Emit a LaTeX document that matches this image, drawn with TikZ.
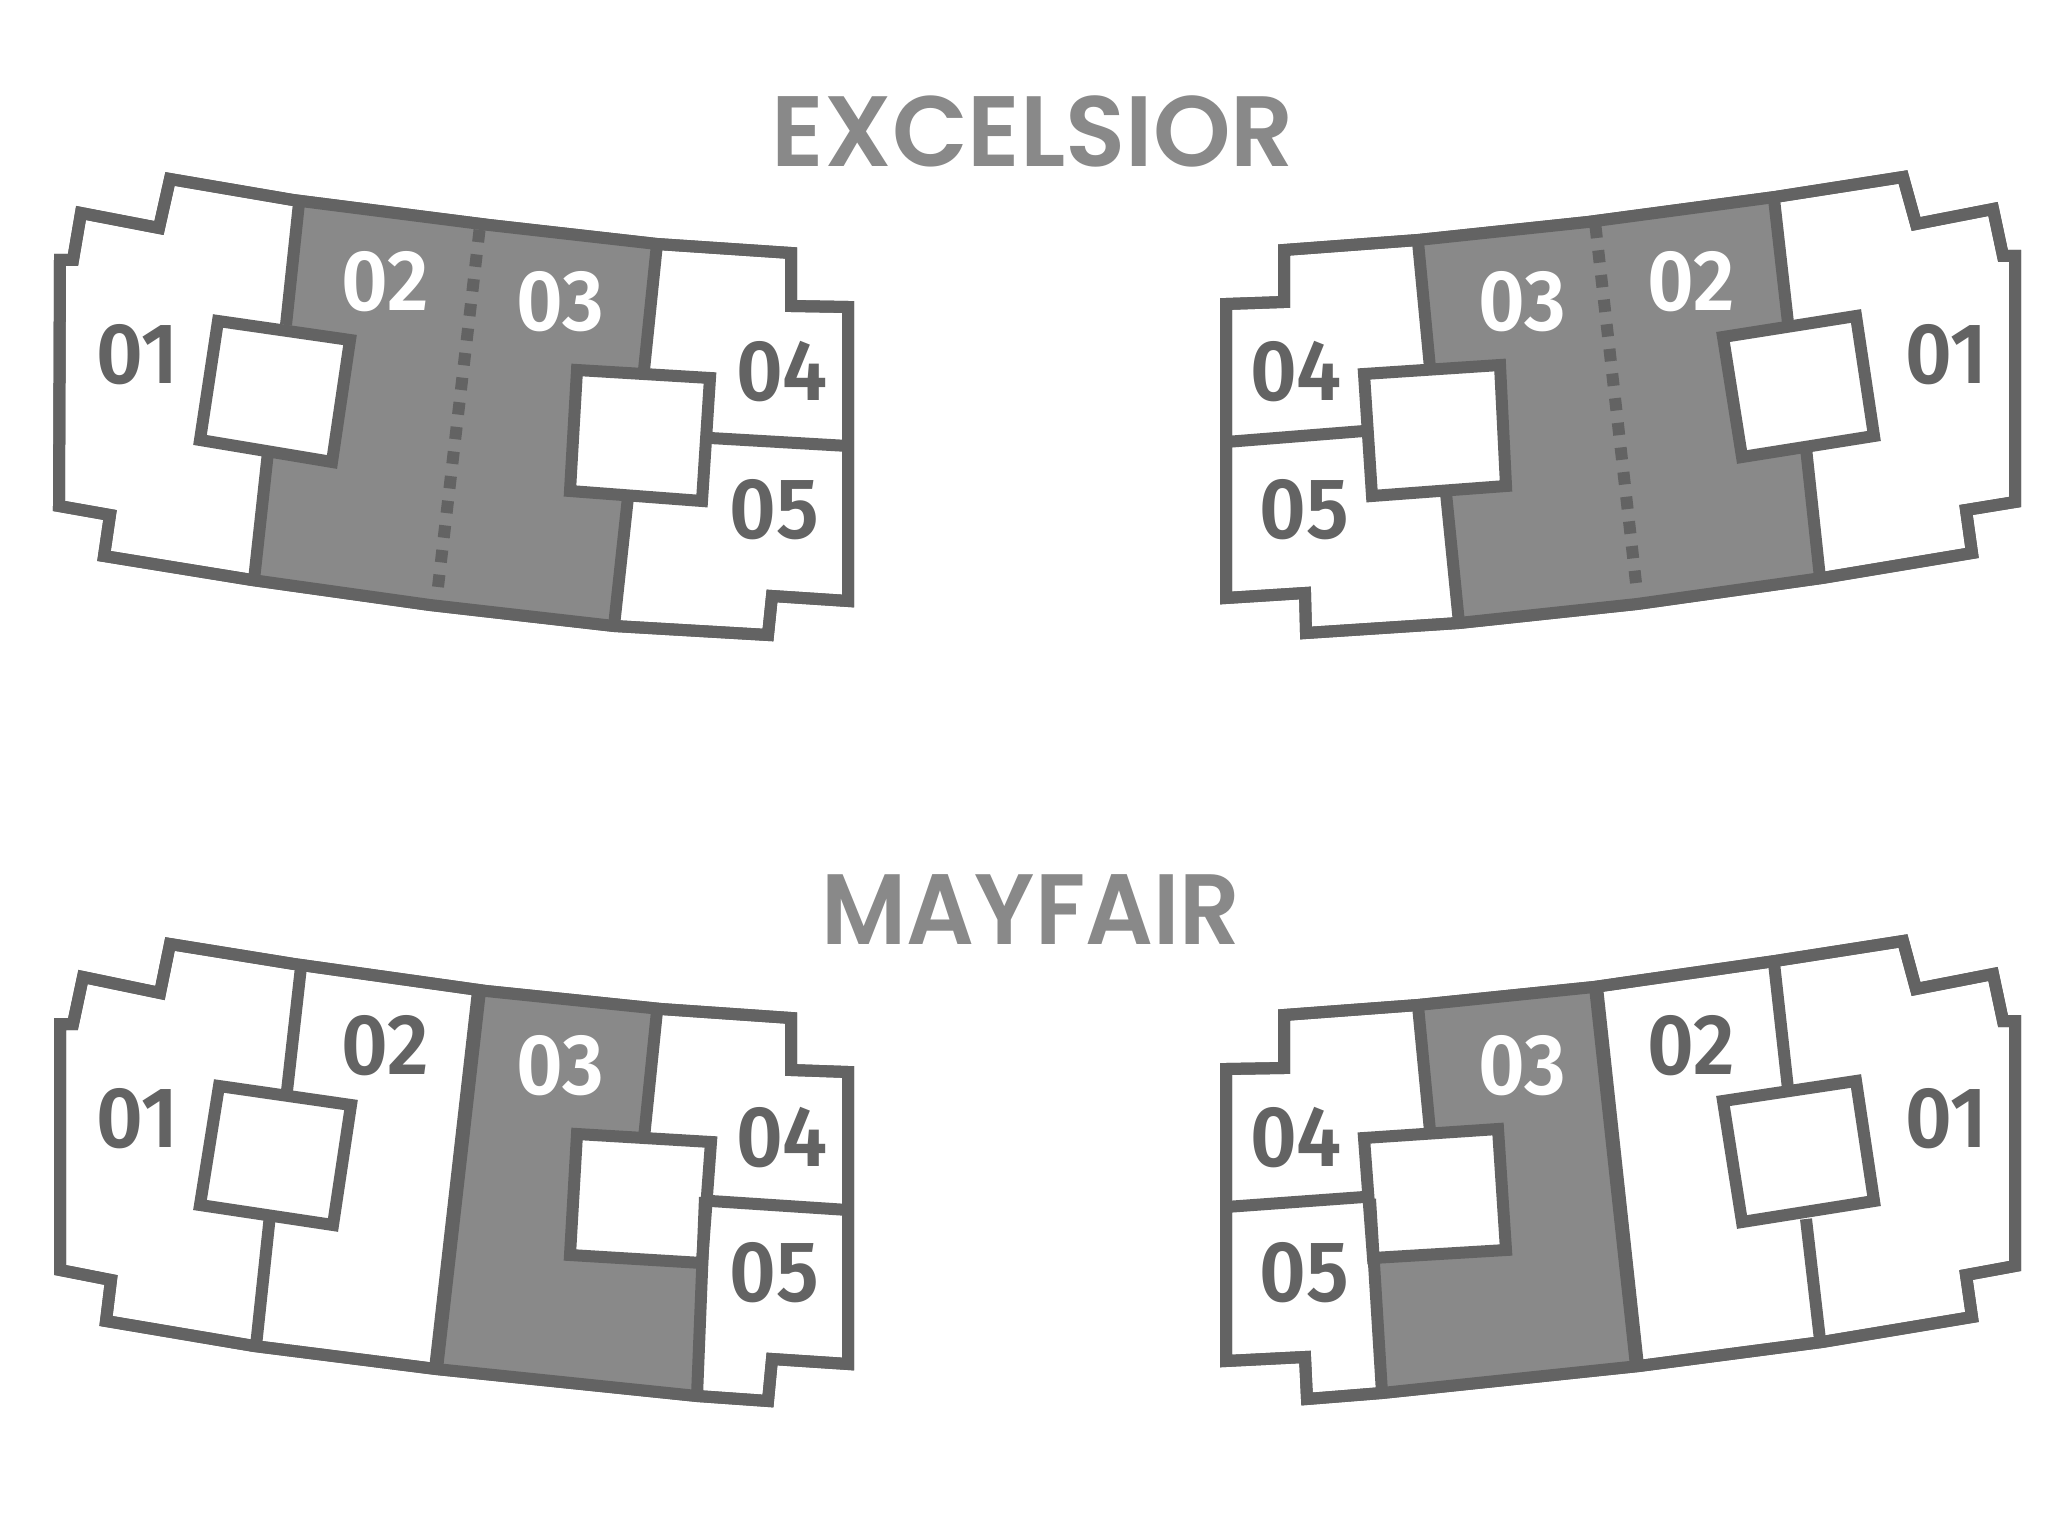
\documentclass[tikz,border=0pt]{standalone}
\usepackage{fontspec}
\usepackage{tikz}
\newfontfamily\titlefont{Poppins SemiBold}
\newfontfamily\unitfont{Fira Sans SemiBold}
\definecolor{mywall}{HTML}{636363}
\definecolor{myshade}{HTML}{898989}
\tikzset{
   myplan/.style={draw=mywall, line width=6pt, fill=white},
   myfill/.style={fill=myshade, draw=none},
   mycore/.style={draw=mywall, line width=6pt, fill=white},
   mywallline/.style={draw=mywall, line width=6pt},
   mythick/.style={draw=mywall, line width=7pt},
   mydots/.style={draw=mywall, line width=6pt, dash pattern=on 6.2pt off 6.2pt},
   mytitle/.style={text=myshade, font=\titlefont\fontsize{50}{50}\selectfont, inner sep=0pt},
   mydark/.style={text=mywall, font=\unitfont\fontsize{43}{43}\selectfont, inner sep=0pt, xscale=.94},
   mylight/.style={mydark, text=white}
}
\begin{document}
\begin{tikzpicture}[x=.5pt,y=-.5pt]
   \useasboundingbox (0,0) rectangle (2072,1513);
   \node[mytitle, xscale=.987] (titleA) at (1033,131) {EXCELSIOR};
   \node[mytitle, xscale=.948] (titleB) at (1031,910) {MAYFAIR};

   \path[myplan] (170,179) -- (293,200) -- (489,225) -- (657,244) -- (791,253) -- (791,306) -- (848,307) -- (848,446) -- (848,601) -- (772,596) -- (768,635) -- (614,626) -- (430,605) -- (252,580) -- (104,556) -- (110,515) -- (59,506) -- (60,260) -- (73,260) -- (81,213) -- (159,228) -- cycle;
   \path[myfill] (299,203) -- (489,225) -- (657,244) -- (614,626) -- (430,605) -- (254,580) -- cycle;
   \path[mywallline] (299,203) -- (286,325);
   \path[mywallline] (268,452) -- (254,580);
   \path[mywallline] (657,244) -- (644,370);
   \path[mywallline] (628,497) -- (614,626);
   \path[mywallline] (710,438) -- (848,446);
   \path[mydots] (438,587) -- (480,226);
   \path[mycore] (218,321) -- (350,340) -- (332,462) -- (200,440) -- cycle;
   \path[mycore] (577,370) -- (710,378) -- (702,501) -- (570,491) -- cycle;
   \path[myplan, fill=none] (170,179) -- (293,200) -- (489,225) -- (657,244) -- (791,253) -- (791,306) -- (848,307) -- (848,446) -- (848,601) -- (772,596) -- (768,635) -- (614,626) -- (430,605) -- (252,580) -- (104,556) -- (110,515) -- (59,506) -- (60,260) -- (73,260) -- (81,213) -- (159,228) -- cycle;
   \node[mydark] (a01) at (137,355) {01};
   \node[mylight] (a02) at (385,282) {02};
   \node[mylight] (a03) at (560,302) {03};
   \node[mydark] (a04) at (782,372) {04};
   \node[mydark] (a05) at (774,510) {05};

   \path[myplan] (1903,177) -- (1775,197) -- (1588,222) -- (1418,240) -- (1284,250) -- (1284,302) -- (1226,304) -- (1226,440) -- (1226,598) -- (1305,593) -- (1306,633) -- (1459,623) -- (1637,604) -- (1822,578) -- (1972,553) -- (1966,510) -- (2015,502) -- (2015,256) -- (2003,256) -- (1993,209) -- (1916,224) -- cycle;
   \path[myfill] (1774,199) -- (1588,222) -- (1418,240) -- (1459,623) -- (1637,604) -- (1822,578) -- cycle;
   \path[mywallline] (1774,199) -- (1788,323);
   \path[mywallline] (1806,448) -- (1820,578);
   \path[mywallline] (1418,242) -- (1430,368);
   \path[mywallline] (1446,493) -- (1459,623);
   \path[mywallline] (1226,442) -- (1364,431);
   \path[mydots] (1636,583) -- (1595,222);
   \path[mycore] (1856,316) -- (1723,337) -- (1742,457) -- (1874,436) -- cycle;
   \path[mycore] (1364,374) -- (1500,365) -- (1506,486) -- (1372,496) -- cycle;
   \path[myplan, fill=none] (1903,177) -- (1775,197) -- (1588,222) -- (1418,240) -- (1284,250) -- (1284,302) -- (1226,304) -- (1226,440) -- (1226,598) -- (1305,593) -- (1306,633) -- (1459,623) -- (1637,604) -- (1822,578) -- (1972,553) -- (1966,510) -- (2015,502) -- (2015,256) -- (2003,256) -- (1993,209) -- (1916,224) -- cycle;
   \node[mydark] (b01) at (1946,355) {01};
   \node[mylight] (b02) at (1691,282) {02};
   \node[mylight] (b03) at (1522,302) {03};
   \node[mydark] (b04) at (1296,372) {04};
   \node[mydark] (b05) at (1304,510) {05};

   \path[myplan] (170,944) -- (294,964) -- (486,991) -- (661,1009) -- (791,1018) -- (791,1070) -- (848,1072) -- (848,1210) -- (848,1364) -- (772,1359) -- (768,1401) -- (697,1396) -- (436,1369) -- (254,1346) -- (106,1321) -- (111,1280) -- (60,1270) -- (60,1024) -- (73,1024) -- (83,977) -- (160,993) -- cycle;
   \path[myfill] (479,991) -- (661,1009) -- (644,1138) -- (706,1142) -- (697,1396) -- (436,1369) -- cycle;
   \path[mywallline] (301,967) -- (287,1091);
   \path[mywallline] (270,1215) -- (256,1346);
   \path[mythick] (479,991) -- (436,1369);
   \path[mywallline] (657,1011) -- (644,1138);
   \path[mywallline] (711,1201) -- (848,1210);
   \path[mycore] (219,1086) -- (351,1105) -- (333,1225) -- (200,1205) -- cycle;
   \path[mycore] (577,1134) -- (711,1142) -- (702,1263) -- (570,1255) -- cycle;
   \path[mywallline] (705,1197) -- (697,1396);
   \path[myplan, fill=none] (170,944) -- (294,964) -- (486,991) -- (661,1009) -- (791,1018) -- (791,1070) -- (848,1072) -- (848,1210) -- (848,1364) -- (772,1359) -- (768,1401) -- (697,1396) -- (436,1369) -- (254,1346) -- (106,1321) -- (111,1280) -- (60,1270) -- (60,1024) -- (73,1024) -- (83,977) -- (160,993) -- cycle;
   \node[mydark] (c01) at (137,1119) {01};
   \node[mydark] (c02) at (385,1046) {02};
   \node[mylight] (c03) at (560,1066) {03};
   \node[mydark] (c04) at (782,1138) {04};
   \node[mydark] (c05) at (774,1273) {05};

   \path[myplan] (1903,941) -- (1775,961) -- (1594,987) -- (1418,1005) -- (1284,1015) -- (1284,1068) -- (1226,1069) -- (1226,1205) -- (1226,1361) -- (1305,1357) -- (1307,1399) -- (1382,1393) -- (1639,1366) -- (1822,1342) -- (1972,1317) -- (1966,1275) -- (2015,1266) -- (2015,1021) -- (2003,1021) -- (1993,974) -- (1916,989) -- cycle;
   \path[myfill] (1596,987) -- (1418,1005) -- (1430,1131) -- (1370,1135) -- (1382,1393) -- (1637,1366) -- cycle;
   \path[mywallline] (1774,963) -- (1788,1089);
   \path[mywallline] (1806,1219) -- (1820,1340);
   \path[mythick] (1596,987) -- (1637,1366);
   \path[mywallline] (1418,1006) -- (1430,1131);
   \path[mywallline] (1226,1207) -- (1364,1197);
   \path[mycore] (1856,1081) -- (1723,1101) -- (1742,1222) -- (1874,1201) -- cycle;
   \path[mycore] (1364,1138) -- (1498,1129) -- (1506,1250) -- (1373,1258) -- cycle;
   \path[mywallline] (1370,1199) -- (1382,1393);
   \path[myplan, fill=none] (1903,941) -- (1775,961) -- (1594,987) -- (1418,1005) -- (1284,1015) -- (1284,1068) -- (1226,1069) -- (1226,1205) -- (1226,1361) -- (1305,1357) -- (1307,1399) -- (1382,1393) -- (1639,1366) -- (1822,1342) -- (1972,1317) -- (1966,1275) -- (2015,1266) -- (2015,1021) -- (2003,1021) -- (1993,974) -- (1916,989) -- cycle;
   \node[mydark] (d01) at (1946,1119) {01};
   \node[mydark] (d02) at (1691,1046) {02};
   \node[mylight] (d03) at (1522,1066) {03};
   \node[mydark] (d04) at (1296,1138) {04};
   \node[mydark] (d05) at (1304,1273) {05};
\end{tikzpicture}
\end{document}
